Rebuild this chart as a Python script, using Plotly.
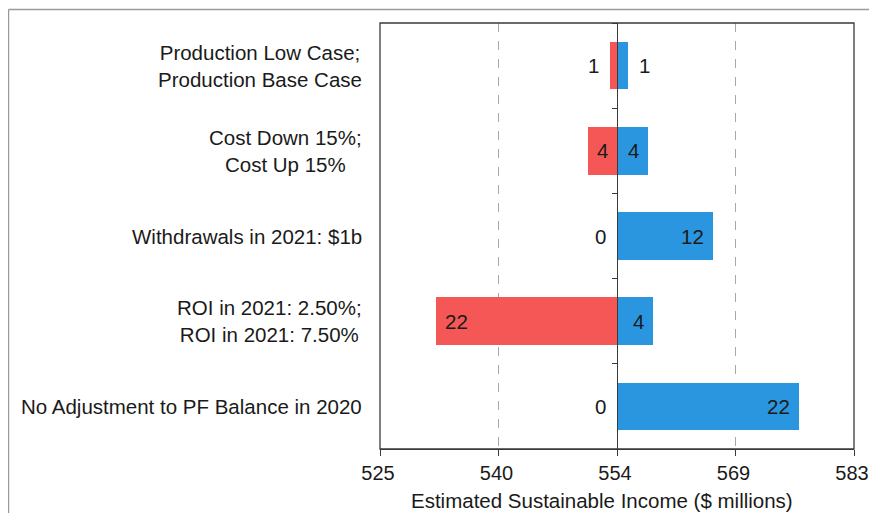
import plotly.graph_objects as go

# ---- data ----
categories = [
    "Production Low Case;<br>Production Base Case",
    "Cost Down 15%;<br>Cost Up 15%",
    "Withdrawals in 2021: $1b",
    "ROI in 2021: 2.50%;<br>ROI in 2021: 7.50%",
    "No Adjustment to PF Balance in 2020",
]
base_value = 554.2
low_delta = [0.9, 3.6, 0.0, 22.3, 0.0]     # red (downside)
high_delta = [1.3, 3.8, 11.8, 4.4, 22.4]   # blue (upside)
tick_vals = [525, 539.6, 554.2, 568.8, 583.4]
tick_text = ["525", "540", "554", "569", "583"]
x_title = "Estimated Sustainable Income ($ millions)"

RED = "#F55757"
BLUE = "#2A96E0"
FONT = "Liberation Sans, Arial, sans-serif"
FS = 20.5
TXT = "#1a1a1a"

fig = go.Figure()
fig.add_trace(go.Bar(
    y=categories, x=[-d for d in low_delta], base=base_value,
    orientation="h", marker=dict(color=RED, line=dict(width=0)),
    width=0.56, hoverinfo="skip", showlegend=False,
))
fig.add_trace(go.Bar(
    y=categories, x=high_delta, base=base_value,
    orientation="h", marker=dict(color=BLUE, line=dict(width=0)),
    width=0.56, hoverinfo="skip", showlegend=False,
))

annotations = []
# value labels
for cat, d in zip(categories, low_delta):
    inside = d >= 3
    annotations.append(dict(
        x=base_value - d, y=cat, xref="x", yref="y", text=f"{d:.0f}",
        showarrow=False, xanchor="left" if inside else "right",
        xshift=7 if inside else -9, font=dict(family=FONT, size=FS, color=TXT)))
for cat, d in zip(categories, high_delta):
    inside = d >= 3
    annotations.append(dict(
        x=base_value + d, y=cat, xref="x", yref="y", text=f"{d:.0f}",
        showarrow=False, xanchor="right" if inside else "left",
        xshift=-7 if inside else 9, font=dict(family=FONT, size=FS, color=TXT)))
# category labels
for cat in categories:
    annotations.append(dict(
        x=0, y=cat, xref="paper", yref="y", text=cat, showarrow=False,
        xanchor="right", align="center", xshift=-16,
        font=dict(family=FONT, size=FS, color=TXT)))
# axis title
annotations.append(dict(
    x=0.469, y=-0.1502, xref="paper", yref="paper", text=x_title,
    showarrow=False, xanchor="center", yanchor="bottom", borderpad=0,
    font=dict(family=FONT, size=FS, color=TXT)))

shapes = [
    # plot frame
    dict(type="rect", xref="paper", yref="paper", x0=0, x1=1, y0=0, y1=1,
         line=dict(color="#3a3a3a", width=1.3), layer="above"),
    # outer page frame (top and left)
    dict(type="line", xref="paper", yref="paper", x0=-0.7838, x1=1.2,
         y0=1.0317, y1=1.0317, line=dict(color="#9a9a9a", width=1.5)),
    dict(type="line", xref="paper", yref="paper", x0=-0.7838, x1=-0.7838,
         y0=1.0317, y1=-0.3, line=dict(color="#9a9a9a", width=1.5)),
]

fig.update_layout(
    width=869, height=505,
    margin=dict(l=372, r=23, t=15, b=64, autoexpand=False),
    paper_bgcolor="white", plot_bgcolor="white",
    barmode="overlay", bargap=0,
    font=dict(family=FONT, size=FS, color=TXT),
    annotations=annotations, shapes=shapes,
    xaxis=dict(
        range=[tick_vals[0], tick_vals[-1]], tickmode="array",
        tickvals=tick_vals, ticktext=tick_text, automargin=False,
        showgrid=True, gridcolor="#a8a8a8", griddash="dash", gridwidth=1,
        zeroline=False, showline=True, linecolor="#3a3a3a", linewidth=1.3,
        ticks="outside", ticklen=6, tickcolor="#3a3a3a", tickwidth=1,
        ticklabelstandoff=0, ticklabelshift=-2,
        tickfont=dict(family=FONT, size=20, color=TXT),
    ),
    yaxis=dict(
        categoryorder="array", categoryarray=categories, autorange="reversed",
        showticklabels=False, showgrid=False, zeroline=False, automargin=False,
        anchor="free", position=0.5,
        showline=True, linecolor="#3a3a3a", linewidth=1.3,
        ticks="outside", tickson="boundaries", ticklen=5,
        tickcolor="#3a3a3a", tickwidth=1,
    ),
)

fig.write_html("out.html")
